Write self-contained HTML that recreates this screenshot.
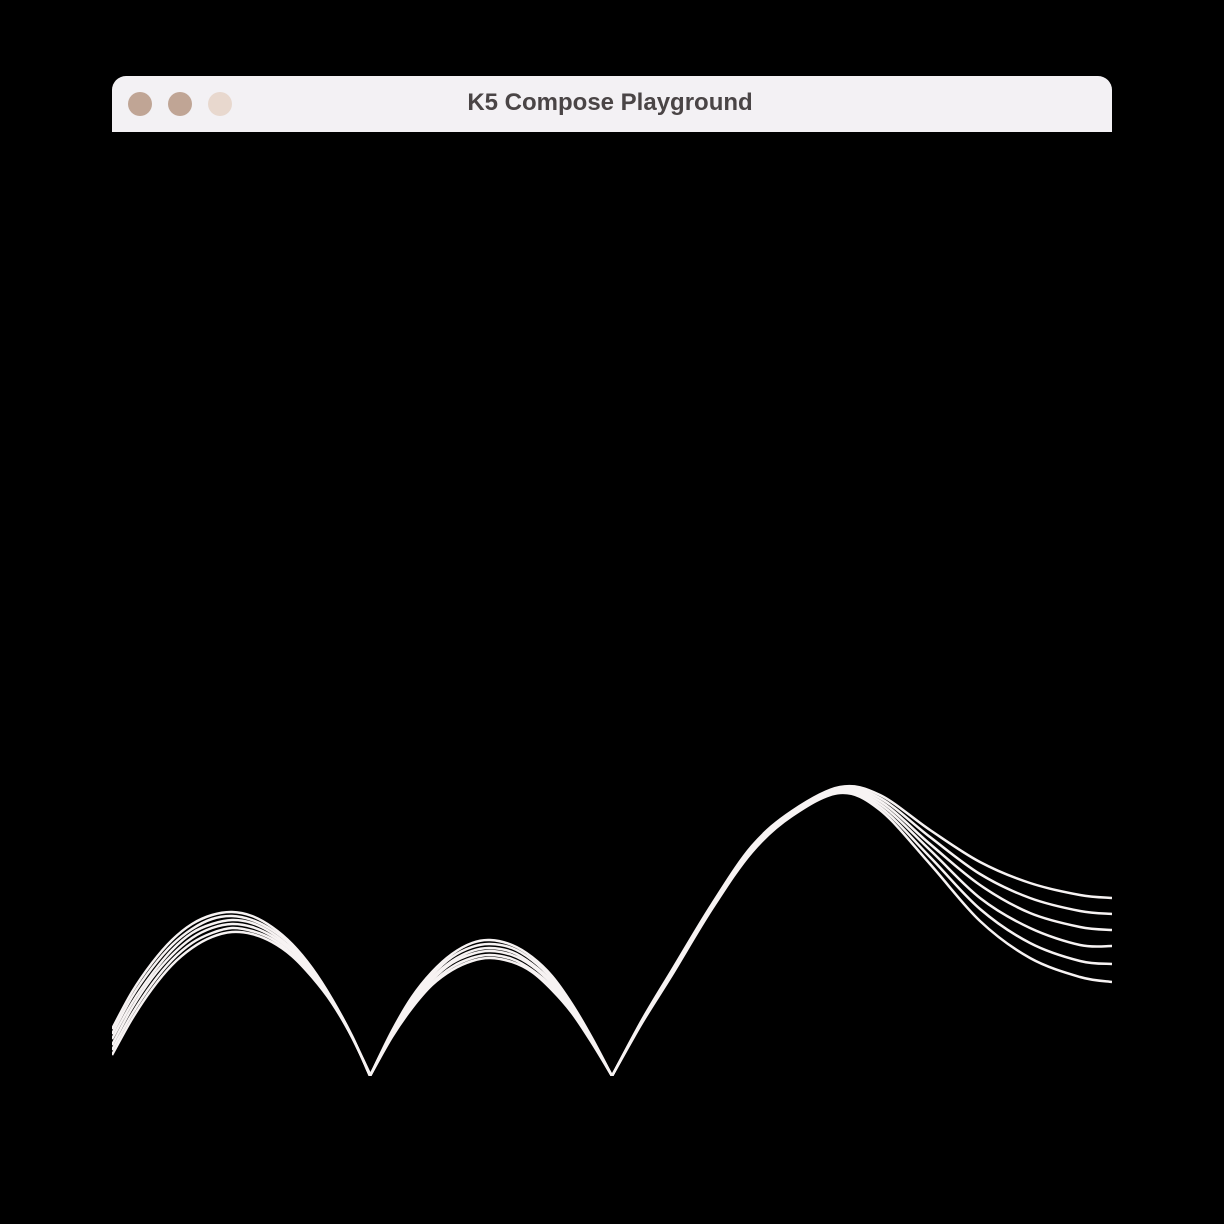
<!DOCTYPE html>
<html><head><meta charset="utf-8"><style>
html,body{margin:0;padding:0;background:#000;width:1224px;height:1224px;overflow:hidden}
#win{position:absolute;left:112px;top:76px;width:1000px;height:1000px;background:#000;border-radius:14px;overflow:hidden}
#bar{position:absolute;left:0;top:0;width:1000px;height:56px;background:#f3f1f4}
.dot{position:absolute;top:16px;width:24px;height:24px;border-radius:50%;background:#c0a595}
#title{position:absolute;left:-2px;width:1000px;top:13px;line-height:30px;text-align:center;font:bold 24px "Liberation Sans",sans-serif;color:#4a4546}
svg{position:absolute;left:0;top:0}
</style></head><body>
<div id="win">
 <div id="bar">
  <div class="dot" style="left:16px"></div>
  <div class="dot" style="left:56px"></div>
  <div class="dot" style="left:96px;background:#e8d8ce"></div>
  <div id="title">K5 Compose Playground</div>
 </div>
</div>
<svg id="chart" width="1224" height="1224"></svg>
<script>
// shared x samples (px offset from content left) per segment
const seg1X = [0,20,40,60,80,100,120,140,160,180,200,220,240,258];
const seg2X = [258,280,300,320,340,360,378,400,420,440,460,480,500];
const seg3X = [500,530,560,600,640,680,728,768,818,868,918,968,1000];
// heights above baseline per series (top curve first)
const seg1Vals = [
 [47,84,113,136,152,161,164,160,149,132,108,77,40,0],
 [42,79,108,131,147,157,160,156,146,130,106,76,40,0],
 [37,73,102,126,143,152,156,153,143,127,104,76,40,0],
 [31,68,98,121,138,148,152,149,140,125,103,75,39,1],
 [26,62,92,116,133,143,148,145,137,122,101,74,39,1],
 [21,57,87,111,128,139,144,142,134,120,99,73,39,2]];
const seg2Vals = [
 [0,45,79,104,122,133,136,131,119,100,72,38,0],
 [0,44,76,101,119,129,132,128,116,97,70,37,0],
 [0,43,74,98,115,125,128,124,112,94,68,36,0],
 [0,42,72,96,113,122,125,121,110,92,67,35,0],
 [0,40,70,93,109,118,121,117,106,89,64,34,0],
 [0,39,68,91,106,115,118,114,104,86,63,33,0]];
const seg3Vals = [
 [0,56,106,172,230,265,289,281,246,214,193,181,178],
 [0,55,105,171,229,264,288,278,239,202,178,165,162],
 [0,55,104,170,228,263,287,275,232,191,163,149,146],
 [0,54,103,169,227,262,286,272,226,178,148,131,130],
 [0,54,102,168,226,261,285,269,219,167,133,115,112],
 [0,53,101,167,224,260,283,266,212,155,118,99,94]];

const X0 = 112, BASE = 1076;
const xs = v => X0 + v;
const ys = v => BASE - v;
function crPath(px, py){
  const P = px.map((x,i)=>[xs(x), ys(py[i])]);
  let d = `M${P[0][0]},${P[0][1]}`;
  for(let i=0;i<P.length-1;i++){
    const p0=P[Math.max(0,i-1)], p1=P[i], p2=P[i+1], p3=P[Math.min(P.length-1,i+2)];
    const c1=[p1[0]+(p2[0]-p0[0])/6, p1[1]+(p2[1]-p0[1])/6];
    const c2=[p2[0]-(p3[0]-p1[0])/6, p2[1]-(p3[1]-p1[1])/6];
    d += ` C${c1[0]},${c1[1]} ${c2[0]},${c2[1]} ${p2[0]},${p2[1]}`;
  }
  return d;
}
const svg = document.getElementById('chart');
const NS = 'http://www.w3.org/2000/svg';
const clip = document.createElementNS(NS,'clipPath'); clip.setAttribute('id','c');
const r = document.createElementNS(NS,'rect');
r.setAttribute('x',112); r.setAttribute('y',132); r.setAttribute('width',1000); r.setAttribute('height',944);
clip.appendChild(r); svg.appendChild(clip);
for(let s=0;s<seg1Vals.length;s++){
  const p = document.createElementNS(NS,'path');
  
  
  p.setAttribute('d', crPath(seg1X, seg1Vals[s]) + ' ' + crPath(seg2X, seg2Vals[s]).replace(/^M/,'L') + ' ' + crPath(seg3X, seg3Vals[s]).replace(/^M/,'L'));
  p.setAttribute('fill','none'); p.setAttribute('stroke','#f7f3f3'); p.setAttribute('stroke-width','2.5');
  p.setAttribute('clip-path','url(#c)');
  svg.appendChild(p);
}
</script>
</body></html>
